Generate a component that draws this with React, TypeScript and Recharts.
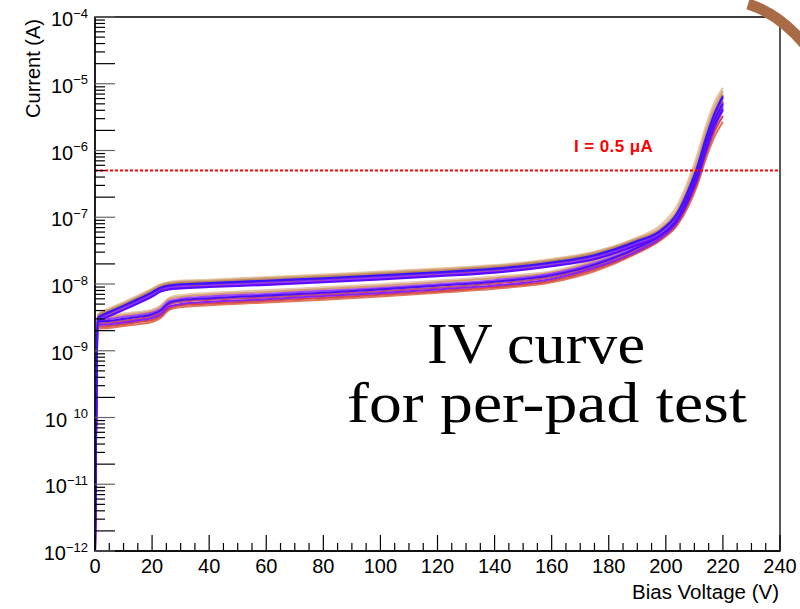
import React from 'react';
import { LineChart, Line, XAxis, YAxis, ReferenceLine, ReferenceArea } from 'recharts';

// Bias voltage grid (V)
const VOLTAGES = [0, 1, 5, 10, 15, 20, 23, 26, 30, 40, 60, 80, 100, 120, 140, 160, 175, 190, 198, 204, 208, 211, 214, 217, 220];

// Currents in nA, upper band (A) and lower band (B) pads
const A1 = [0.002, 3.5, 4.3, 5.3, 6.7, 8.5, 9.9, 10.7, 11.2, 11.6, 12.7, 13.8, 15.3, 17.0, 19.2, 23.7, 30.5, 50, 75, 150, 370, 850, 2300, 5200, 8700];
const A2 = [0.001, 3.4, 4.1, 5.1, 6.4, 8.2, 9.6, 10.4, 10.8, 11.2, 12.2, 13.3, 14.7, 16.4, 18.5, 22.9, 29.5, 48, 68, 130, 310, 700, 1900, 4400, 7800];
const A3 = [0.0015, 3.3, 4.0, 4.9, 6.2, 7.9, 9.2, 10.0, 10.4, 10.8, 11.8, 12.8, 14.2, 15.8, 17.9, 22.0, 28.4, 46, 64, 118, 270, 590, 1600, 3700, 6900];
const A4 = [0.001, 3.1, 3.8, 4.7, 5.9, 7.5, 8.8, 9.5, 9.9, 10.3, 11.2, 12.2, 13.5, 15.0, 17.0, 21.0, 27.0, 44, 62, 115, 260, 560, 1500, 3500, 6500];
const A5 = [0.001, 3.0, 3.7, 4.6, 5.7, 7.3, 8.5, 9.2, 9.6, 10.0, 10.9, 11.8, 13.1, 14.6, 16.5, 20.4, 26.2, 42.7, 60, 108, 240, 520, 1400, 3300, 6200];
const A6 = [0.0022, 2.9, 3.6, 4.4, 5.5, 7.1, 8.3, 8.9, 9.3, 9.7, 10.5, 11.5, 12.7, 14.1, 16.0, 19.7, 25.4, 41.4, 57, 100, 215, 460, 1200, 2900, 5400];
const A7 = [0.001, 2.8, 3.4, 4.2, 5.3, 6.8, 7.9, 8.6, 8.9, 9.3, 10.1, 11.0, 12.2, 13.5, 15.3, 18.9, 24.3, 39.6, 55, 95, 200, 420, 1100, 2600, 4800];
const A8 = [0.0012, 2.7, 3.3, 4.1, 5.1, 6.5, 7.7, 8.3, 8.6, 9.0, 9.7, 10.6, 11.7, 13.1, 14.8, 18.5, 23.5, 38.3, 53, 90, 185, 380, 980, 2300, 4200];

const B1 = [0.001, 3.3, 3.35, 3.6, 3.8, 4.1, 4.8, 6.2, 6.8, 7.3, 8.1, 8.9, 9.9, 11.2, 12.9, 15.5, 23.0, 40, 58, 110, 250, 540, 1450, 3300, 6000];
const B2 = [0.0018, 3.1, 3.2, 3.4, 3.6, 3.9, 4.5, 5.9, 6.4, 6.9, 7.6, 8.4, 9.3, 10.6, 12.2, 14.8, 21.8, 38, 56, 102, 230, 500, 1300, 3000, 5500];
const B3 = [0.001, 2.9, 3.0, 3.2, 3.4, 3.7, 4.2, 5.5, 6.0, 6.5, 7.1, 7.9, 8.7, 9.9, 11.4, 14.2, 20.5, 36, 54, 98, 220, 470, 1250, 2900, 5200];
const B4 = [0.0013, 2.75, 2.8, 3.0, 3.2, 3.5, 4.0, 5.2, 5.7, 6.1, 6.7, 7.4, 8.3, 9.4, 10.8, 13.5, 19.4, 35, 53, 96, 215, 460, 1200, 2800, 5000];
const B5 = [0.001, 2.6, 2.65, 2.8, 3.0, 3.3, 3.7, 4.9, 5.4, 5.8, 6.3, 7.0, 7.8, 8.8, 10.2, 12.7, 18.5, 33, 50, 90, 195, 410, 1050, 2500, 4500];
const B6 = [0.0025, 2.45, 2.5, 2.65, 2.85, 3.1, 3.5, 4.6, 5.0, 5.4, 5.9, 6.6, 7.3, 8.3, 9.5, 11.9, 17.5, 31, 48, 85, 180, 370, 950, 2200, 4000];
const B7 = [0.001, 2.3, 2.35, 2.5, 2.7, 2.9, 3.3, 4.3, 4.8, 5.1, 5.6, 6.2, 6.9, 7.8, 9.0, 11.2, 16.5, 30, 46, 80, 165, 330, 850, 1900, 3300];
const B8 = [0.0015, 2.15, 2.2, 2.35, 2.5, 2.7, 3.1, 4.1, 4.5, 4.8, 5.3, 5.8, 6.5, 7.4, 8.5, 10.6, 15.5, 29, 45, 76, 150, 300, 750, 1600, 2700];

// draw order: tan first, blue last
const SERIES = [
  { key: 'A1', values: A1, color: '#e3c7a5' },
  { key: 'B1', values: B1, color: '#e6c9ae' },
  { key: 'A2', values: A2, color: '#d6a47c' },
  { key: 'B2', values: B2, color: '#d59a78' },
  { key: 'A3', values: A3, color: '#b9875f' },
  { key: 'B8', values: B8, color: '#e0775a' },
  { key: 'B7', values: B7, color: '#d44a4a' },
  { key: 'A6', values: A6, color: '#c4644a' },
  { key: 'B5', values: B5, color: '#c2506e' },
  { key: 'A7', values: A7, color: '#9b34ff' },
  { key: 'B6', values: B6, color: '#8a20f2' },
  { key: 'A5', values: A5, color: '#7a2cff' },
  { key: 'B3', values: B3, color: '#9a44ff' },
  { key: 'B4', values: B4, color: '#4c10ff' },
  { key: 'A8', values: A8, color: '#5a0cff' },
  { key: 'A4', values: A4, color: '#3a12ff' },
];

const THRESHOLD = 0.5e-6; // 0.5 uA
const THRESHOLD_LABEL = 'I = 0.5 \u03BCA';

const X_TICKS = [0, 5, 10, 15, 20, 25, 30, 35, 40, 45, 50, 55, 60, 65, 70, 75, 80, 85, 90, 95, 100, 105, 110, 115, 120, 125, 130, 135, 140, 145, 150, 155, 160, 165, 170, 175, 180, 185, 190, 195, 200, 205, 210, 215, 220, 225, 230, 235, 240];
const X_LABELS = [0, 20, 40, 60, 80, 100, 120, 140, 160, 180, 200, 220, 240];

const Y_DECADES = [-12, -11, -10, -9, -8, -7, -6, -5, -4];
const Y_EXP_LABELS = ['\u221212', '\u221211', '\u200210', '\u22129', '\u22128', '\u22127', '\u22126', '\u22125', '\u22124'];
const Y_MINOR_MULTS = [2, 3, 4, 5, 6, 7, 8, 9];

const Y_TICKS: number[] = [];
Y_DECADES.forEach((d, i) => {
  Y_TICKS.push(Math.pow(10, d));
  if (i < Y_DECADES.length - 1) Y_MINOR_MULTS.forEach((m) => Y_TICKS.push(m * Math.pow(10, d)));
});

const rows = VOLTAGES.map((v, i) => {
  const r: any = { v };
  SERIES.forEach((s) => (r[s.key] = s.values[i] * 1e-9));
  return r;
});

const FONT = '"Liberation Sans", Arial, Helvetica, sans-serif';
const SERIF = '"Liberation Serif", "Times New Roman", serif';

const XTick = (props: any) => {
  const { x, y, payload } = props;
  const val = payload.value;
  const major = X_LABELS.includes(val);
  return (
    <g>
      <line x1={x} x2={x} y1={y} y2={y - (major ? 16 : 8)} stroke="#000" strokeWidth={1.2} />
      {major && (
        <text x={x} y={y + 22} textAnchor="middle" fontFamily={FONT} fontSize={20} fill="#000">
          {val}
        </text>
      )}
    </g>
  );
};

const YTick = (props: any) => {
  const { x, y, payload } = props;
  const val = payload.value;
  const decIdx = Y_DECADES.findIndex((d) => Math.abs(Math.pow(10, d) - val) / val < 1e-6);
  const isDecade = decIdx >= 0;
  const mant = Math.round(val / Math.pow(10, Math.floor(Math.log10(val) + 1e-9)));
  const long = isDecade || mant === 2;
  return (
    <g>
      <line x1={x} x2={x + (long ? 20 : 10)} y1={y} y2={y} stroke={isDecade ? '#666' : '#000'} strokeWidth={1.2} />
      {isDecade && (
        <text x={x - 7} y={y + 9} textAnchor="end" fontFamily={FONT} fontSize={20} fill="#000">
          10
          <tspan dy={-8.5} fontSize={13}>{Y_EXP_LABELS[decIdx]}</tspan>
        </text>
      )}
    </g>
  );
};

const ThresholdLabel = (props: any) => {
  const vb = props.viewBox || {};
  return (
    <text x={(vb.x ?? 95) + 479} y={(vb.y ?? 171) - 19} fontFamily={FONT} fontWeight="bold" fontSize={17} letterSpacing={0.4} fill="#ff0000">
      {THRESHOLD_LABEL}
    </text>
  );
};

export default function App() {
  return (
    <div style={{ position: 'absolute', left: 0, top: 0, width: 800, height: 609, background: '#fff' }}>
      <LineChart width={800} height={609} data={rows} margin={{ top: 17, right: 20, bottom: 0, left: 0 }}>
        <XAxis
          dataKey="v"
          type="number"
          domain={[0, 240]}
          ticks={X_TICKS}
          interval={0}
          allowDataOverflow
          height={58}
          tickSize={0}
          tickMargin={0}
          tickLine={false}
          axisLine={{ stroke: '#000', strokeWidth: 1.3 }}
          tick={<XTick />}
        />
        <YAxis
          type="number"
          scale="log"
          domain={[1e-12, 1e-4]}
          ticks={Y_TICKS}
          interval={0}
          allowDataOverflow
          width={95}
          tickSize={0}
          tickMargin={0}
          tickLine={false}
          axisLine={{ stroke: '#000', strokeWidth: 1.3 }}
          tick={<YTick />}
        />
        <ReferenceArea x1={0} x2={240} y1={1e-12} y2={1e-4} fill="none" stroke="#000" strokeWidth={1.3} />
        {SERIES.map((s) => (
          <Line
            key={s.key}
            dataKey={s.key}
            type="monotone"
            stroke={s.color}
            strokeWidth={2.1}
            dot={false}
            isAnimationActive={false}
          />
        ))}
        <ReferenceLine
          y={THRESHOLD}
          stroke="#ff0000"
          strokeWidth={2}
          strokeDasharray="3 2"
          label={(p: any) => <ThresholdLabel {...p} />}
        />
      </LineChart>
      <svg width={800} height={609} style={{ position: 'absolute', left: 0, top: 0, pointerEvents: 'none' }}>
        <path d="M 748 4 Q 780 14 806 46" fill="none" stroke="#a96b46" strokeWidth={11} />
        <text x={40} y={19} transform="rotate(-90 40 19)" textAnchor="end" fontFamily={FONT} fontSize={20} fill="#000">
          Current (A)
        </text>
        <text x={779} y={599} textAnchor="end" fontFamily={FONT} fontSize={20.5} fill="#000">
          Bias Voltage (V)
        </text>
        <text x={427} y={363} fontFamily={SERIF} fontSize={57} textLength={218} lengthAdjust="spacingAndGlyphs" fill="#000">
          IV curve
        </text>
        <text x={347} y={422} fontFamily={SERIF} fontSize={57} textLength={400} lengthAdjust="spacingAndGlyphs" fill="#000">
          for per-pad test
        </text>
      </svg>
    </div>
  );
}
